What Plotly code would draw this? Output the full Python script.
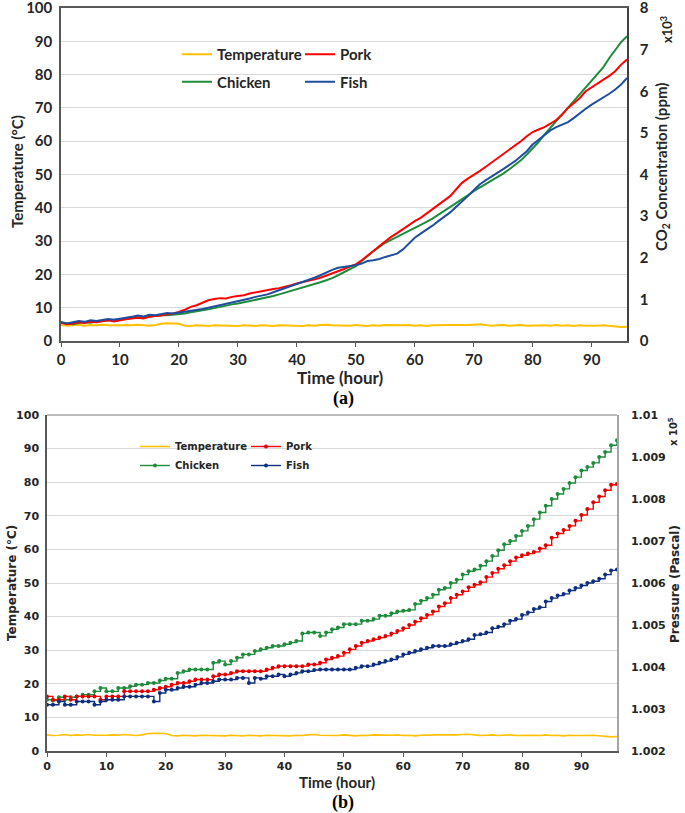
import plotly.graph_objects as go

# ---------------- data (hourly readings, 0..96 h) ----------------
hours = list(range(0, 97))

# storage temperature (°C), shared by both panels
temperature = [4.8, 4.6, 4.7, 4.9, 4.6, 4.8, 4.7, 4.9, 4.7, 4.6, 4.7, 4.8, 4.7, 4.9, 4.7, 4.6, 4.8, 5.2, 5.3, 5.3,
               5.2, 4.6, 4.5, 4.7, 4.6, 4.5, 4.7, 4.6, 4.7, 4.6, 4.5, 4.7, 4.6, 4.5, 4.7, 4.6, 4.5, 4.7, 4.6, 4.7,
               4.6, 4.5, 4.7, 4.6, 4.8, 4.9, 4.7, 4.6, 4.7, 4.6, 4.8, 4.6, 4.5, 4.7, 4.6, 4.8, 4.7, 4.6, 4.7, 4.8,
               4.6, 4.7, 4.5, 4.7, 4.8, 4.7, 4.8, 4.8, 4.7, 4.8, 4.9, 5.0, 4.8, 4.6, 4.7, 4.8, 4.6, 4.7, 4.8, 4.6,
               4.7, 4.6, 4.7, 4.6, 4.8, 4.6, 4.7, 4.5, 4.7, 4.6, 4.5, 4.6, 4.7, 4.5, 4.3, 4.2, 4.3]

# (a) CO2 concentration (ppm)
co2_pork = [440, 400, 420, 450, 430, 460, 450, 480, 500, 470, 500, 520, 540, 560, 540, 580, 600, 610, 640, 660,
            700, 750, 820, 860, 920, 980, 1010, 1030, 1020, 1060, 1080, 1100, 1140, 1170, 1190, 1220, 1250, 1270, 1300, 1340,
            1380, 1410, 1440, 1480, 1520, 1570, 1620, 1670, 1730, 1790, 1840, 1940, 2040, 2160, 2280, 2400, 2500, 2590, 2690, 2780,
            2880, 2960, 3060, 3160, 3260, 3360, 3480, 3640, 3800, 3900, 3980, 4080, 4180, 4280, 4380, 4480, 4580, 4690, 4800, 4920,
            5020, 5080, 5140, 5220, 5310, 5440, 5600, 5720, 5840, 6000, 6100, 6200, 6280, 6370, 6480, 6640, 6760]
co2_chicken = [440, 420, 400, 430, 450, 440, 470, 480, 490, 510, 520, 540, 560, 580, 570, 590, 600, 620, 620, 630,
               640, 660, 690, 710, 740, 760, 790, 820, 860, 880, 900, 930, 960, 980, 1010, 1040, 1080, 1120, 1160, 1200,
               1250, 1290, 1330, 1360, 1410, 1460, 1510, 1580, 1650, 1720, 1800, 1920, 2050, 2160, 2260, 2360, 2430, 2500, 2580, 2650,
               2720, 2790, 2860, 2940, 3030, 3120, 3210, 3300, 3400, 3500, 3600, 3680, 3780, 3860, 3940, 4020, 4120, 4220, 4340, 4480,
               4620, 4780, 4960, 5120, 5280, 5440, 5600, 5760, 5920, 6080, 6240, 6400, 6580, 6800, 7000, 7180, 7320]
co2_fish = [460, 420, 450, 480, 460, 500, 480, 510, 530, 510, 540, 560, 580, 610, 590, 630, 620, 650, 670, 660,
            680, 700, 720, 740, 770, 800, 830, 860, 900, 930, 960, 990, 1020, 1060, 1090, 1120, 1170, 1220, 1260, 1310,
            1360, 1410, 1460, 1520, 1580, 1650, 1710, 1760, 1780, 1810, 1820, 1860, 1920, 1940, 1970, 2020, 2060, 2100, 2200, 2340,
            2480, 2580, 2670, 2770, 2880, 2980, 3090, 3220, 3340, 3480, 3620, 3760, 3860, 3960, 4040, 4130, 4220, 4320, 4440, 4560,
            4720, 4840, 4960, 5060, 5140, 5200, 5260, 5360, 5480, 5580, 5680, 5760, 5840, 5940, 6040, 6160, 6320]

# (b) headspace pressure (Pa)
pa_pork = [100330, 100322, 100322, 100330, 100322, 100330, 100330, 100330, 100330, 100322, 100330, 100330, 100330, 100342, 100342,
           100342, 100342, 100342, 100346, 100350, 100353, 100358, 100362, 100362, 100366, 100370, 100370, 100370, 100378, 100382,
           100382, 100386, 100390, 100390, 100390, 100390, 100390, 100394, 100398, 100402, 100402, 100402, 100402, 100402, 100406,
           100406, 100410, 100418, 100422, 100426, 100434, 100442, 100450, 100458, 100462, 100466, 100470, 100474, 100480, 100486,
           100492, 100500, 100508, 100516, 100524, 100532, 100544, 100552, 100564, 100572, 100580, 100590, 100596, 100602, 100614,
           100624, 100634, 100642, 100652, 100661, 100666, 100670, 100674, 100682, 100690, 100708, 100718, 100726, 100736, 100748,
           100762, 100776, 100792, 100806, 100821, 100834, 100836]
pa_chicken = [100322, 100320, 100328, 100322, 100328, 100330, 100334, 100334, 100342, 100350, 100342, 100342, 100350, 100350, 100354,
              100358, 100358, 100362, 100362, 100368, 100372, 100372, 100386, 100390, 100394, 100394, 100394, 100394, 100410, 100414,
              100406, 100414, 100422, 100430, 100430, 100438, 100442, 100446, 100450, 100450, 100454, 100458, 100462, 100480, 100482,
              100482, 100474, 100482, 100490, 100494, 100502, 100502, 100502, 100510, 100510, 100514, 100522, 100522, 100528, 100532,
              100534, 100536, 100550, 100558, 100564, 100572, 100584, 100588, 100600, 100608, 100620, 100628, 100632, 100641, 100652,
              100664, 100678, 100692, 100700, 100712, 100724, 100736, 100752, 100768, 100784, 100800, 100812, 100824, 100838, 100852,
              100868, 100876, 100886, 100900, 100912, 100928, 100940]
pa_fish = [100310, 100310, 100318, 100310, 100310, 100318, 100318, 100318, 100310, 100318, 100322, 100322, 100322, 100330, 100330,
           100330, 100330, 100330, 100318, 100338, 100346, 100346, 100350, 100353, 100353, 100358, 100362, 100362, 100366, 100370,
           100370, 100370, 100374, 100374, 100362, 100374, 100372, 100378, 100378, 100382, 100378, 100382, 100386, 100390, 100390,
           100393, 100394, 100394, 100394, 100394, 100394, 100394, 100398, 100402, 100402, 100406, 100410, 100414, 100418, 100424,
           100430, 100434, 100438, 100442, 100446, 100450, 100450, 100450, 100454, 100458, 100462, 100466, 100476, 100478, 100482,
           100492, 100496, 100502, 100510, 100514, 100524, 100530, 100538, 100542, 100556, 100564, 100570, 100574, 100582, 100588,
           100594, 100600, 100604, 100610, 100620, 100630, 100632]

x_ticks = list(range(0, 91, 10))
temp_ticks = list(range(0, 101, 10))
co2_ticks = list(range(0, 8001, 1000))
co2_ticktext = [str(v // 1000) for v in co2_ticks]
pa_ticks = list(range(100200, 101001, 100))
pa_ticktext = ["1.002", "1.003", "1.004", "1.005", "1.006", "1.007", "1.008", "1.009", "1.01"]

# ---------------- styling ----------------
W, H = 685, 813


def px(x):
    return x / W


def py(y):
    return 1 - y / H


C_TEMP = "#FFC000"
C_PORK = "#FF0000"
C_CHICK = "#1E8C3C"
C_FISH_A = "#1F4E9E"
C_FISH_B = "#0E2F7E"
GRID = "#D9D9D9"
AX = "#595959"
TXT = "#262626"

F_A = dict(family="Lato", size=15, color=TXT, weight=700)
F_B = dict(family="DejaVu Sans", size=11, color=TXT, weight=700)

fig = go.Figure()

# panel (a)
fig.add_trace(go.Scatter(x=hours, y=temperature, name="Temperature", mode="lines",
                         line=dict(color=C_TEMP, width=2), xaxis="x", yaxis="y",
                         legend="legend", legendgroup="a1"))
fig.add_trace(go.Scatter(x=hours, y=co2_chicken, name="Chicken", mode="lines",
                         line=dict(color=C_CHICK, width=2), xaxis="x", yaxis="y2",
                         legend="legend", legendgroup="a2"))
fig.add_trace(go.Scatter(x=hours, y=co2_pork, name="Pork", mode="lines",
                         line=dict(color=C_PORK, width=2), xaxis="x", yaxis="y2",
                         legend="legend2", legendgroup="a3"))
fig.add_trace(go.Scatter(x=hours, y=co2_fish, name="Fish", mode="lines",
                         line=dict(color=C_FISH_A, width=2), xaxis="x", yaxis="y2",
                         legend="legend2", legendgroup="a4"))

# panel (b)
fig.add_trace(go.Scatter(x=hours, y=temperature, name="Temperature", mode="lines",
                         line=dict(color=C_TEMP, width=1.6), xaxis="x2", yaxis="y3",
                         legend="legend3", legendgroup="b1"))
fig.add_trace(go.Scatter(x=hours, y=pa_chicken, name="Chicken", mode="lines+markers",
                         line=dict(color=C_CHICK, width=1.4, shape="hv"), marker=dict(size=4, color=C_CHICK),
                         xaxis="x2", yaxis="y4", legend="legend3", legendgroup="b2"))
fig.add_trace(go.Scatter(x=hours, y=pa_pork, name="Pork", mode="lines+markers",
                         line=dict(color=C_PORK, width=1.4, shape="hv"), marker=dict(size=4, color="#E00000"),
                         xaxis="x2", yaxis="y4", legend="legend4", legendgroup="b3"))
fig.add_trace(go.Scatter(x=hours, y=pa_fish, name="Fish", mode="lines+markers",
                         line=dict(color=C_FISH_B, width=1.4, shape="hv"), marker=dict(size=4, color=C_FISH_B),
                         xaxis="x2", yaxis="y4", legend="legend4", legendgroup="b4"))

leg_a = dict(bgcolor="rgba(0,0,0,0)", font=dict(family="Lato", size=15, color=TXT, weight=700),
             xanchor="left", yanchor="top", tracegroupgap=5, itemwidth=30)
leg_b = dict(bgcolor="rgba(0,0,0,0)", font=dict(family="DejaVu Sans", size=10, color=TXT, weight=700),
             xanchor="left", yanchor="top", tracegroupgap=0, itemwidth=30)


def vtitle(text, x, y, font):
    return dict(text=text, x=px(x), y=py(y), xref="paper", yref="paper", showarrow=False,
                textangle=-90, xanchor="center", yanchor="middle", font=font, borderpad=0)


def htitle(text, x, y, font):
    return dict(text=text, x=px(x), y=py(y), xref="paper", yref="paper", showarrow=False,
                xanchor="center", yanchor="middle", font=font, borderpad=0)


FT_A = dict(family="Lato", size=15, color=TXT, weight=700)
FT_B = dict(family="DejaVu Sans", size=12, color=TXT, weight=700)

fig.update_layout(
    width=W, height=H, margin=dict(l=0, r=0, t=0, b=0),
    paper_bgcolor="white", plot_bgcolor="white",
    showlegend=True,
    legend=dict(leg_a, x=px(177), y=py(38)),
    legend2=dict(leg_a, x=px(300), y=py(38)),
    legend3=dict(leg_b, x=px(135), y=py(432)),
    legend4=dict(leg_b, x=px(246), y=py(432)),
    xaxis=dict(domain=[px(61), px(627)], anchor="y", range=[0, 96], tickvals=x_ticks, tickfont=F_A,
               automargin=False, showgrid=False, showline=True, linecolor=AX, linewidth=1.5, mirror=True,
               ticks="outside", ticklen=4, tickcolor=AX, zeroline=False),
    yaxis=dict(domain=[py(341), py(8)], anchor="x", range=[0, 100], tickvals=temp_ticks, tickfont=F_A,
               automargin=False, showgrid=True, gridcolor=GRID, gridwidth=1, showline=True, linecolor=AX,
               linewidth=1.5, ticks="", zeroline=False, ticklabelstandoff=4, ticklabeloverflow="allow"),
    yaxis2=dict(overlaying="y", side="right", anchor="x", range=[0, 8000], tickvals=co2_ticks,
                ticktext=co2_ticktext, tickfont=F_A, automargin=False, showgrid=False, showline=True,
                linecolor="#404040", linewidth=1.5, ticks="", zeroline=False, ticklabelstandoff=8,
                ticklabeloverflow="allow"),
    xaxis2=dict(domain=[px(47), px(617)], anchor="y3", range=[0, 96], tickvals=x_ticks, tickfont=F_B,
                automargin=False, showgrid=False, showline=True, linecolor=AX, linewidth=1.5,
                ticks="outside", ticklen=4, tickcolor=AX, zeroline=False),
    yaxis3=dict(domain=[py(751), py(415)], anchor="x2", range=[0, 100], tickvals=temp_ticks, tickfont=F_B,
                automargin=False, showgrid=True, gridcolor=GRID, gridwidth=1, showline=True, linecolor=AX,
                linewidth=1.5, ticks="", zeroline=False, ticklabelstandoff=4, ticklabeloverflow="allow"),
    yaxis4=dict(overlaying="y3", side="right", anchor="x2", range=[100200, 101000], tickvals=pa_ticks,
                ticktext=pa_ticktext, tickfont=F_B, automargin=False, showgrid=False, showline=True,
                linecolor="#A6A6A6", linewidth=1.5, ticks="", zeroline=False, ticklabelstandoff=10,
                ticklabeloverflow="allow"),
    shapes=[dict(type="line", xref="x2 domain", yref="y3 domain", x0=0, x1=1, y0=1, y1=1,
                 line=dict(color="#A6A6A6", width=1.5))],
    annotations=[
        vtitle("Temperature (°C)", 17, 172, FT_A),
        vtitle("CO<sub>2</sub> Concentration (ppm)", 662, 167, FT_A),
        htitle("Time (hour)", 340, 378, dict(family="Lato", size=17, color=TXT, weight=700)),
        vtitle("x10<sup>3</sup>", 667, 30, dict(family="Lato", size=13, color=TXT, weight=700)),
        htitle("(a)", 343, 398, dict(family="Liberation Serif", size=18, color="#000000", weight=700)),
        vtitle("Temperature (°C)", 12, 583, FT_B),
        vtitle("Pressure (Pascal)", 675, 584, FT_B),
        htitle("Time (hour)", 337, 782, dict(family="Lato", size=15, color=TXT, weight=700)),
        vtitle("x 10<sup>5</sup>", 673, 432, dict(family="DejaVu Sans", size=10, color=TXT, weight=700)),
        htitle("(b)", 343, 802, dict(family="Liberation Serif", size=18, color="#000000", weight=700)),
    ],
)

fig.write_html("out.html", config={"displayModeBar": False},
               post_script="document.body.style.margin='0px';")
